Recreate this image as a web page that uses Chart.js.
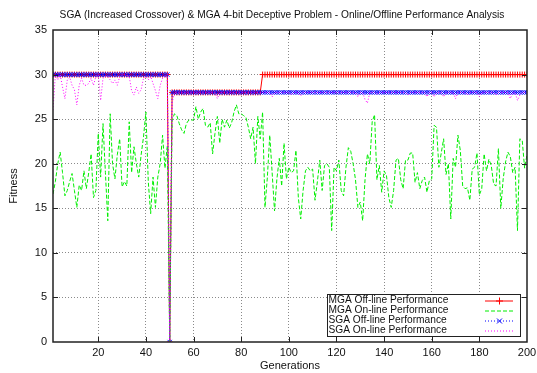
<!DOCTYPE html>
<html>
<head>
<meta charset="utf-8">
<script src="https://cdn.jsdelivr.net/npm/chart.js@4.4.0/dist/chart.umd.min.js"></script>
<style>
  html, body { margin: 0; padding: 0; background: #fff; }
  canvas { display: block; }
</style>
</head>
<body>
<canvas id="perfChart" width="537" height="373"></canvas>
<script>
// ----- DATA -----
const chartTitle = 'SGA (Increased Crossover) & MGA 4-bit Deceptive Problem - Online/Offline Performance Analysis';
const generations = Array.from({ length: 200 }, (_, i) => i + 1);
const xTicks = [20, 40, 60, 80, 100, 120, 140, 160, 180, 200];
const yTicks = [0, 5, 10, 15, 20, 25, 30, 35];
const seriesLabels = ['MGA Off-line Performance', 'MGA On-line Performance', 'SGA Off-line Performance', 'SGA On-line Performance'];

const mgaOffline = [
  30, 30, 30, 30, 30, 30, 30, 30, 30, 30, 30, 30, 30, 30, 30, 30, 30, 30, 30, 30,
  30, 30, 30, 30, 30, 30, 30, 30, 30, 30, 30, 30, 30, 30, 30, 30, 30, 30, 30, 30,
  30, 30, 30, 30, 30, 30, 30, 30, 30, 0, 28, 28, 28, 28, 28, 28, 28, 28, 28, 28,
  28, 28, 28, 28, 28, 28, 28, 28, 28, 28, 28, 28, 28, 28, 28, 28, 28, 28, 28, 28,
  28, 28, 28, 28, 28, 28, 28, 28, 30, 30, 30, 30, 30, 30, 30, 30, 30, 30, 30, 30,
  30, 30, 30, 30, 30, 30, 30, 30, 30, 30, 30, 30, 30, 30, 30, 30, 30, 30, 30, 30,
  30, 30, 30, 30, 30, 30, 30, 30, 30, 30, 30, 30, 30, 30, 30, 30, 30, 30, 30, 30,
  30, 30, 30, 30, 30, 30, 30, 30, 30, 30, 30, 30, 30, 30, 30, 30, 30, 30, 30, 30,
  30, 30, 30, 30, 30, 30, 30, 30, 30, 30, 30, 30, 30, 30, 30, 30, 30, 30, 30, 30,
  30, 30, 30, 30, 30, 30, 30, 30, 30, 30, 30, 30, 30, 30, 30, 30, 30, 30, 30, 30
];

const mgaOnline = [
  16.6, 18, 20, 21.3, 19, 16.4, 17, 18, 18.9, 17, 15.1, 17.6, 17, 19.2, 17.2, 19, 21.1, 16.2, 17, 23.4,
  18.5, 24.5, 19, 13.6, 25.6, 20, 18.3, 21, 22.8, 17.4, 18, 17.5, 24.7, 19, 21.9, 20, 18.5, 21, 23, 25.8,
  18, 14.4, 18.5, 15.1, 18.5, 20, 23.2, 19.5, 22, 0, 24.9, 25.6, 25.4, 24.5, 23.8, 23.4, 24.5, 24.9, 24.9, 24.9,
  26.4, 25, 25.8, 26.2, 24.3, 24.1, 24.6, 21.1, 23.4, 25.3, 22.3, 25, 24.1, 24.9, 24, 24.6, 25.8, 26.6, 25.6, 25.6,
  25.4, 25.2, 24.1, 22.8, 24.1, 20, 25.3, 22.8, 25.8, 15.1, 18.5, 23.2, 19, 14.7, 18.3, 20.6, 17.5, 22.3, 18.3, 19.6,
  19, 19.2, 21.5, 16.2, 13.8, 17, 19.2, 19.6, 19.2, 19.4, 15.9, 18, 20.4, 17, 19.8, 20, 19.6, 12.5, 19.6, 19.2,
  20.4, 17, 16.4, 19.6, 21.8, 21.4, 20, 18.2, 15.1, 15.7, 13.6, 18.2, 21.1, 20, 24.7, 25.5, 18.2, 19.8, 16.8, 19.2,
  18.7, 16.2, 15.1, 17, 20.4, 20.6, 18.2, 17.2, 20.4, 20.4, 21.2, 21.2, 17.9, 19, 17.2, 18.1, 18.5, 16.8, 18.1, 18.3,
  24.3, 24.1, 19.6, 21.2, 22.8, 18.8, 20, 13.8, 20.6, 19.6, 23.2, 21.5, 17.5, 17.2, 17.3, 15.9, 19.4, 19.6, 21.2, 16.5,
  17.2, 21.1, 19.2, 20.5, 19.8, 17.7, 17.5, 21.7, 15, 18.3, 20.2, 21.3, 20.8, 19, 19.6, 12.5, 22.8, 22.6, 19.5, 21
];

const sgaOffline = [
  30, 30, 30, 30, 30, 30, 30, 30, 30, 30, 30, 30, 30, 30, 30, 30, 30, 30, 30, 30,
  30, 30, 30, 30, 30, 30, 30, 30, 30, 30, 30, 30, 30, 30, 30, 30, 30, 30, 30, 30,
  30, 30, 30, 30, 30, 30, 30, 30, 30, 0, 28, 28, 28, 28, 28, 28, 28, 28, 28, 28,
  28, 28, 28, 28, 28, 28, 28, 28, 28, 28, 28, 28, 28, 28, 28, 28, 28, 28, 28, 28,
  28, 28, 28, 28, 28, 28, 28, 28, 28, 28, 28, 28, 28, 28, 28, 28, 28, 28, 28, 28,
  28, 28, 28, 28, 28, 28, 28, 28, 28, 28, 28, 28, 28, 28, 28, 28, 28, 28, 28, 28,
  28, 28, 28, 28, 28, 28, 28, 28, 28, 28, 28, 28, 28, 28, 28, 28, 28, 28, 28, 28,
  28, 28, 28, 28, 28, 28, 28, 28, 28, 28, 28, 28, 28, 28, 28, 28, 28, 28, 28, 28,
  28, 28, 28, 28, 28, 28, 28, 28, 28, 28, 28, 28, 28, 28, 28, 28, 28, 28, 28, 28,
  28, 28, 28, 28, 28, 28, 28, 28, 28, 28, 28, 28, 28, 28, 28, 28, 28, 28, 28, 28
];

const sgaOnline = [
  26, 30, 29.4, 30, 28.6, 27.3, 29.4, 29.7, 28.8, 28.3, 26.6, 28.8, 29.6, 28.8, 28.8, 29, 29.6, 28.8, 29.8, 30,
  27.1, 29.6, 29.8, 29.8, 29.4, 29, 29.4, 28.8, 29.8, 30, 30, 29.9, 29.8, 28.2, 27.7, 28.6, 27.9, 28.3, 29.6, 29.8,
  29.4, 29.8, 29, 28.2, 27.3, 28.8, 29.6, 29.8, 30, 0, 26.8, 28, 28, 28, 28, 28, 28, 28, 28, 28,
  28, 28, 28, 28, 28, 28, 28, 28, 28, 27.3, 28, 28, 28, 28, 28, 28, 28, 28, 28, 28,
  28, 28, 28, 28, 28, 28, 28, 28, 28, 28, 28, 28, 27.5, 28, 28, 28, 28, 28, 28, 28,
  27.7, 28, 28, 28, 27.6, 28, 28, 28, 28, 28, 28, 28, 28, 28, 28, 28, 28, 28, 28, 28,
  28, 28, 28, 28, 28, 28, 28, 28, 27.5, 28, 28, 27.2, 26.8, 28, 28, 28, 27.8, 28, 28, 28,
  28, 28, 28, 28, 28, 28, 28, 28, 28, 27.7, 28, 28, 28, 28, 28, 28, 28, 27.5, 28, 28,
  27.5, 28, 28, 28, 27.5, 28, 28, 28, 28, 27.3, 28, 28, 28, 28, 27.7, 28, 28, 28, 28, 27.5,
  28, 28, 28, 28, 28, 28, 27.7, 28, 28, 28, 28, 28, 27.3, 28, 28, 27.1, 27.7, 28, 28, 28
];

// ----- CHART -----
const FONT = '"Liberation Sans", Arial, sans-serif';
const toPoints = vals => generations.map((g, i) => ({ x: g, y: vals[i] }));

const lineStyles = [
  { color: '#ff0000', dash: [], marker: 'cross' },
  { color: '#00ee00', dash: [4, 2], marker: null },
  { color: '#0000ff', dash: [1, 2], marker: 'crossRot' },
  { color: '#ff00ff', dash: [1, 2], marker: null }
];

// gnuplot-ish frame, inward ticks, title and boxed key
const framePlugin = {
  id: 'frame',
  afterDatasetsDraw(chart) {
    const { ctx, chartArea: a, scales: { x, y } } = chart;
    ctx.save();
    ctx.strokeStyle = '#222';
    ctx.lineWidth = 1.5;
    ctx.strokeRect(a.left, a.top, a.right - a.left, a.bottom - a.top);

    ctx.lineWidth = 1;
    ctx.beginPath();
    xTicks.slice(0, -1).forEach(v => {
      const px = Math.round(x.getPixelForValue(v)) + 0.5;
      ctx.moveTo(px, a.bottom); ctx.lineTo(px, a.bottom - 5);
      ctx.moveTo(px, a.top); ctx.lineTo(px, a.top + 5);
    });
    yTicks.slice(1, -1).forEach(v => {
      const py = Math.round(y.getPixelForValue(v)) + 0.5;
      ctx.moveTo(a.left, py); ctx.lineTo(a.left + 5, py);
      ctx.moveTo(a.right, py); ctx.lineTo(a.right - 5, py);
    });
    ctx.stroke();

    // title
    ctx.fillStyle = '#111';
    ctx.font = '10.2px ' + FONT;
    ctx.textAlign = 'center';
    ctx.textBaseline = 'middle';
    ctx.fillText(chartTitle, 282, 15);

    // key
    const kx = 327.5, ky = 294.5, kw = 193, kh = 42;
    ctx.fillStyle = '#fff';
    ctx.fillRect(kx, ky, kw, kh);
    ctx.strokeStyle = '#222';
    ctx.strokeRect(kx, ky, kw, kh);
    ctx.textAlign = 'left';
    seriesLabels.forEach((lab, i) => {
      const ry = ky + 6 + i * 10;
      ctx.fillStyle = '#111';
      ctx.fillText(lab, kx + 1, ry);
      const st = lineStyles[i];
      ctx.strokeStyle = st.color;
      ctx.setLineDash(st.dash);
      ctx.beginPath();
      ctx.moveTo(485, ry + 0.5); ctx.lineTo(513, ry + 0.5);
      ctx.stroke();
      ctx.setLineDash([]);
      if (st.marker === 'cross') {
        ctx.beginPath();
        ctx.moveTo(499.5, ry - 3); ctx.lineTo(499.5, ry + 4);
        ctx.moveTo(496, ry + 0.5); ctx.lineTo(503, ry + 0.5);
        ctx.stroke();
      } else if (st.marker === 'crossRot') {
        ctx.beginPath();
        ctx.moveTo(497, ry - 2); ctx.lineTo(502, ry + 3);
        ctx.moveTo(502, ry - 2); ctx.lineTo(497, ry + 3);
        ctx.stroke();
      }
    });
    ctx.restore();
  }
};

const datasets = [mgaOffline, mgaOnline, sgaOffline, sgaOnline].map((vals, i) => {
  const st = lineStyles[i];
  return {
    label: seriesLabels[i],
    data: toPoints(vals),
    borderColor: st.color,
    backgroundColor: st.color,
    borderWidth: 1,
    borderDash: st.dash,
    pointStyle: st.marker || 'circle',
    pointRadius: st.marker ? 3 : 0,
    pointBorderColor: st.color,
    pointBorderWidth: 1,
    tension: 0,
    fill: false,
    order: 4 - i   // gnuplot draws later series on top
  };
});

const chart = new Chart(document.getElementById('perfChart'), {
  type: 'line',
  data: { datasets },
  options: {
    responsive: false,
    animation: false,
    devicePixelRatio: 1,
    layout: { padding: { top: 30, right: 0, left: 0, bottom: 0 } },
    plugins: { legend: { display: false }, tooltip: { enabled: false }, title: { display: false } },
    scales: {
      x: {
        type: 'linear',
        min: 1,
        max: 200,
        afterBuildTicks: s => { s.ticks = xTicks.map(v => ({ value: v })); },
        afterFit: s => { s.height = 31; s.paddingRight = 10; },
        ticks: { color: '#111', padding: 4, maxRotation: 0, autoSkip: false, font: { family: FONT, size: 11 } },
        grid: { color: c => (c.tick && c.tick.value === 200) ? 'rgba(0,0,0,0)' : '#8a8a8a', drawTicks: false },
        border: { display: false, dash: [1, 2] },
        title: { display: true, text: 'Generations', color: '#111', padding: { top: 0, bottom: 0 }, font: { family: FONT, size: 11 } }
      },
      y: {
        min: 0,
        max: 35,
        afterBuildTicks: s => { s.ticks = yTicks.map(v => ({ value: v })); },
        afterFit: s => { s.width = 53; },
        ticks: { color: '#111', padding: 6, font: { family: FONT, size: 11 } },
        grid: { color: c => (c.tick && (c.tick.value === 0 || c.tick.value === 35)) ? 'rgba(0,0,0,0)' : '#8a8a8a', drawTicks: false },
        border: { display: false, dash: [1, 2] },
        title: { display: true, text: 'Fitness', color: '#111', padding: { top: 7, bottom: 0 }, font: { family: FONT, size: 11 } }
      }
    }
  },
  plugins: [framePlugin]
});
</script>
</body>
</html>
